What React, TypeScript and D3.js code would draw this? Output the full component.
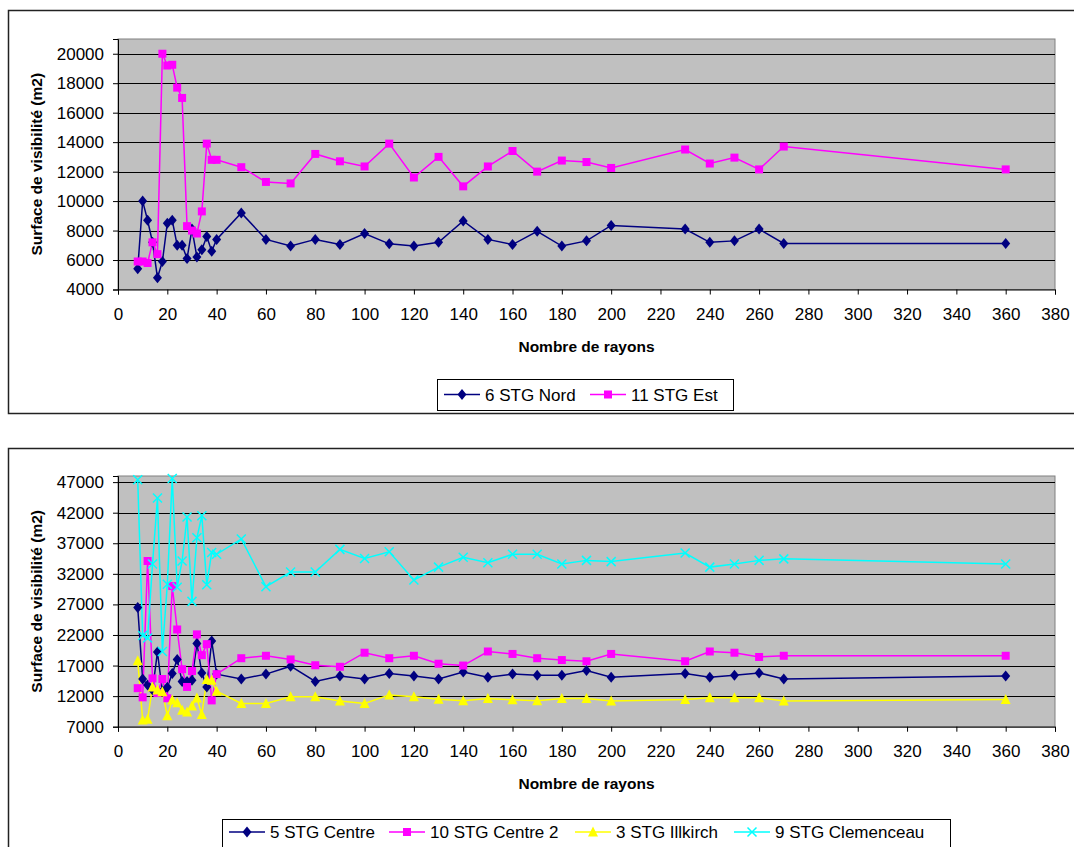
import React, { useEffect, useRef } from "react";
import * as d3 from "d3";

const xValues = [8,10,12,14,16,18,20,22,24,26,28,30,32,34,36,38,40,50,60,70,80,90,100,110,120,130,140,150,160,170,180,190,200,230,240,250,260,270,360];

const nord = [5400,10000,8700,7200,4800,5900,8500,8700,7000,7000,6100,8100,6200,6700,7600,6600,7400,9200,7400,6950,7400,7050,7800,7100,6950,7200,8650,7400,7050,7950,6950,7300,8350,8100,7200,7300,8100,7130,7130];
const est = [5900,5900,5800,7200,6400,20000,19200,19250,17700,17000,8300,8000,7800,9300,13900,12800,12800,12300,11300,11200,13200,12700,12350,13900,11600,13000,11000,12350,13400,12000,12750,12650,12250,13500,12550,12950,12150,13700,12150];

const centre = [26500,14800,13800,13000,19200,12800,13450,15700,18000,14400,14400,14600,20600,15800,13500,21000,15600,14800,15600,16900,14400,15300,14800,15700,15300,14800,15950,15100,15600,15400,15400,16200,15100,15700,15100,15400,15800,14800,15300];
const centre2 = [13300,11800,34100,14900,12500,14800,11650,30000,22900,16400,13500,16100,22100,18700,20500,11300,15600,18200,18600,18000,17050,16800,19100,18200,18600,17300,17000,19300,18900,18200,17900,17700,18900,17700,19300,19100,18400,18600,18600];
const illkirch = [17800,8100,8200,13500,13000,12700,8800,11350,10900,9700,9400,10400,11700,9000,14700,14600,12800,10800,10800,11900,11900,11200,10800,12200,11900,11500,11250,11600,11400,11250,11600,11600,11200,11450,11750,11750,11750,11200,11450];
const clemenceau = [47400,21900,21500,33600,44400,19300,30300,47600,29800,34100,41300,27500,37900,41500,30200,35500,35200,37700,29900,32300,32300,36000,34500,35600,31000,33100,34700,33800,35200,35200,33600,34200,34000,35400,33100,33600,34200,34450,33600];

const xTicks = d3.range(0, 381, 20);
const yTicksTop = d3.range(4000, 20001, 2000);
const yTicksBottom = d3.range(7000, 47001, 5000);

const FONT = "'Liberation Sans', Arial, sans-serif";

type Series = { name: string; values: number[]; color: string; marker: string };

function markerPath(kind: string): string {
  if (kind === "diamond") return "M0,-5.5L4.5,0L0,5.5L-4.5,0Z";
  if (kind === "square") return "M-4,-4L4,-4L4,4L-4,4Z";
  if (kind === "triangle") return "M0,-5.5L5,4.5L-5,4.5Z";
  return "M-4.5,-4.5L4.5,4.5M-4.5,4.5L4.5,-4.5";
}

function drawMarker(g: any, kind: string, color: string, x: number, y: number) {
  const p = g.append("path").attr("d", markerPath(kind)).attr("transform", `translate(${x},${y})`);
  if (kind === "x") p.attr("fill", "none").attr("stroke", color).attr("stroke-width", 1.5);
  else p.attr("fill", color).attr("stroke", "none");
}

function drawChart(svg: any, cfg: any) {
  const g = svg.append("g");
  const x = d3.scaleLinear().domain([0, 380]).range([cfg.left, cfg.right]);
  const y = d3.scaleLinear().domain(cfg.yDomain).range([cfg.bottom, cfg.top]);

  g.append("rect").attr("x", 8.5).attr("y", cfg.frameTop + 0.5).attr("width", 1100).attr("height", cfg.frameH)
    .attr("fill", "#fff").attr("stroke", "#222").attr("stroke-width", 1.5);

  g.append("rect").attr("x", cfg.left).attr("y", cfg.top).attr("width", cfg.right - cfg.left).attr("height", cfg.bottom - cfg.top)
    .attr("fill", "#c0c0c0").attr("stroke", "#808080").attr("stroke-width", 1);

  g.append("g").selectAll("line").data(cfg.yTicks.filter((t: number) => t !== cfg.yDomain[0])).join("line")
    .attr("x1", cfg.left).attr("x2", cfg.right)
    .attr("y1", (d: number) => Math.round(y(d)) + 0.5).attr("y2", (d: number) => Math.round(y(d)) + 0.5)
    .attr("stroke", "#000").attr("stroke-width", 1);

  const yAxis = d3.axisLeft(y).tickValues(cfg.yTicks).tickSize(5).tickPadding(9).tickFormat(d3.format("d"));
  const ya = g.append("g").attr("transform", `translate(${cfg.left},0)`).call(yAxis);
  ya.select(".domain").attr("stroke", "#000");
  ya.selectAll("text").attr("font-family", FONT).attr("font-size", 17).attr("fill", "#000");
  const xAxis = d3.axisBottom(x).tickValues(xTicks).tickSize(5).tickPadding(13).tickFormat(d3.format("d"));
  const xa = g.append("g").attr("transform", `translate(0,${cfg.bottom})`).call(xAxis);
  xa.select(".domain").attr("stroke", "#000");
  xa.selectAll("text").attr("font-family", FONT).attr("font-size", 17).attr("fill", "#000");

  g.append("text").attr("x", (cfg.left + cfg.right) / 2).attr("y", cfg.bottom + 62).attr("text-anchor", "middle")
    .attr("font-family", FONT).attr("font-weight", "bold").attr("font-size", 15.5).text("Nombre de rayons");
  g.append("text").attr("transform", `translate(42,${(cfg.top + cfg.bottom) / 2}) rotate(-90)`).attr("text-anchor", "middle")
    .attr("font-family", FONT).attr("font-weight", "bold").attr("font-size", 15.5).text("Surface de visibilité (m2)");

  const line = d3.line<number>().x((_d, i) => x(xValues[i])).y((d) => y(d));
  cfg.series.forEach((s: Series) => {
    g.append("path").attr("d", line(s.values)).attr("fill", "none").attr("stroke", s.color).attr("stroke-width", 1.5);
  });
  cfg.series.forEach((s: Series) => {
    const mg = g.append("g");
    s.values.forEach((v, i) => drawMarker(mg, s.marker, s.color, x(xValues[i]), y(v)));
  });

  const lg = g.append("g");
  lg.append("rect").attr("x", cfg.legend.x + 0.5).attr("y", cfg.legend.y + 0.5).attr("width", cfg.legend.w).attr("height", cfg.legend.h)
    .attr("fill", "#fff").attr("stroke", "#000").attr("stroke-width", 1);
  cfg.series.forEach((s: Series, i: number) => {
    const lx = cfg.legend.items[i];
    const cy = cfg.legend.cy;
    lg.append("line").attr("x1", lx).attr("x2", lx + 36).attr("y1", cy).attr("y2", cy).attr("stroke", s.color).attr("stroke-width", 1.5);
    drawMarker(lg, s.marker, s.color, lx + 18, cy);
    lg.append("text").attr("x", lx + 41).attr("y", cy + 6).attr("font-family", FONT).attr("font-size", 17).text(s.name);
  });
}

export default function App() {
  const ref = useRef<SVGSVGElement>(null);
  useEffect(() => {
    const svg = d3.select(ref.current);
    svg.selectAll("*").remove();
    drawChart(svg, {
      frameTop: 10, frameH: 403,
      left: 118, right: 1055, top: 39, bottom: 289.5,
      yDomain: [4000, 21000], yTicks: yTicksTop,
      series: [
        { name: "6 STG Nord", values: nord, color: "#000080", marker: "diamond" },
        { name: "11 STG Est", values: est, color: "#ff00ff", marker: "square" },
      ],
      legend: { x: 437, y: 379, w: 296, h: 31, cy: 394.5, items: [444, 590] },
    });
    drawChart(svg, {
      frameTop: 448, frameH: 500,
      left: 118, right: 1055, top: 476, bottom: 726.7,
      yDomain: [7000, 48000], yTicks: yTicksBottom,
      series: [
        { name: "5 STG Centre", values: centre, color: "#000080", marker: "diamond" },
        { name: "10 STG Centre 2", values: centre2, color: "#ff00ff", marker: "square" },
        { name: "3 STG Illkirch", values: illkirch, color: "#ffff00", marker: "triangle" },
        { name: "9 STG Clemenceau", values: clemenceau, color: "#00ffff", marker: "x" },
      ],
      legend: { x: 222, y: 819, w: 728, h: 40, cy: 832, items: [229, 389, 575, 734] },
    });
  }, []);
  return (
    <svg ref={ref} width={1074} height={847} style={{ position: "absolute", left: 0, top: 0, background: "#fff" }} />
  );
}
